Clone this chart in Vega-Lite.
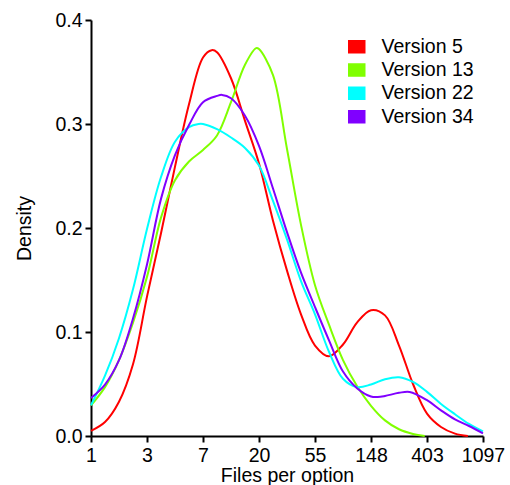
{
  "$schema": "https://vega.github.io/schema/vega-lite/v6.json",
  "width": 392,
  "height": 416,
  "autosize": {"type": "none"},
  "padding": {"left": 91, "top": 20, "right": 27, "bottom": 49},
  "background": "white",
  "config": {"view": {"stroke": null}, "font": "Liberation Sans", "legend": {"symbolStrokeColor": "black", "symbolStrokeWidth": 1.5}},
  "data": {"values": [
    {"s":"Version 5","u":0,"d":0.005},{"s":"Version 5","u":0.25,"d":0.0135},{"s":"Version 5","u":0.5,"d":0.033},{"s":"Version 5","u":0.75,"d":0.069},{"s":"Version 5","u":1,"d":0.134},{"s":"Version 5","u":1.25,"d":0.195},{"s":"Version 5","u":1.5,"d":0.259},{"s":"Version 5","u":1.75,"d":0.319},{"s":"Version 5","u":2,"d":0.364},{"s":"Version 5","u":2.155,"d":0.371},{"s":"Version 5","u":2.25,"d":0.369},{"s":"Version 5","u":2.5,"d":0.344},{"s":"Version 5","u":2.75,"d":0.303},{"s":"Version 5","u":3,"d":0.262},{"s":"Version 5","u":3.25,"d":0.207},{"s":"Version 5","u":3.5,"d":0.159},{"s":"Version 5","u":3.75,"d":0.117},{"s":"Version 5","u":4,"d":0.087},{"s":"Version 5","u":4.25,"d":0.0767},{"s":"Version 5","u":4.5,"d":0.088},{"s":"Version 5","u":4.75,"d":0.109},{"s":"Version 5","u":5,"d":0.121},{"s":"Version 5","u":5.25,"d":0.116},{"s":"Version 5","u":5.5,"d":0.087},{"s":"Version 5","u":5.75,"d":0.05},{"s":"Version 5","u":6,"d":0.0215},{"s":"Version 5","u":6.25,"d":0.0087},{"s":"Version 5","u":6.5,"d":0.0023},{"s":"Version 5","u":6.73,"d":0},
    {"s":"Version 13","u":0,"d":0.0295},{"s":"Version 13","u":0.25,"d":0.047},{"s":"Version 13","u":0.5,"d":0.073},{"s":"Version 13","u":0.75,"d":0.109},{"s":"Version 13","u":1,"d":0.153},{"s":"Version 13","u":1.25,"d":0.21},{"s":"Version 13","u":1.5,"d":0.246},{"s":"Version 13","u":1.75,"d":0.264},{"s":"Version 13","u":2,"d":0.275},{"s":"Version 13","u":2.25,"d":0.289},{"s":"Version 13","u":2.5,"d":0.321},{"s":"Version 13","u":2.75,"d":0.357},{"s":"Version 13","u":2.95,"d":0.373},{"s":"Version 13","u":3,"d":0.372},{"s":"Version 13","u":3.25,"d":0.347},{"s":"Version 13","u":3.5,"d":0.276},{"s":"Version 13","u":3.75,"d":0.203},{"s":"Version 13","u":4,"d":0.145},{"s":"Version 13","u":4.25,"d":0.107},{"s":"Version 13","u":4.5,"d":0.073},{"s":"Version 13","u":4.75,"d":0.048},{"s":"Version 13","u":5,"d":0.029},{"s":"Version 13","u":5.25,"d":0.015},{"s":"Version 13","u":5.5,"d":0.0065},{"s":"Version 13","u":5.75,"d":0.002},{"s":"Version 13","u":5.96,"d":0},
    {"s":"Version 22","u":0,"d":0.0295},{"s":"Version 22","u":0.25,"d":0.058},{"s":"Version 22","u":0.5,"d":0.094},{"s":"Version 22","u":0.75,"d":0.141},{"s":"Version 22","u":1,"d":0.199},{"s":"Version 22","u":1.25,"d":0.249},{"s":"Version 22","u":1.5,"d":0.283},{"s":"Version 22","u":1.75,"d":0.297},{"s":"Version 22","u":1.92,"d":0.3},{"s":"Version 22","u":2,"d":0.3},{"s":"Version 22","u":2.25,"d":0.295},{"s":"Version 22","u":2.5,"d":0.287},{"s":"Version 22","u":2.75,"d":0.277},{"s":"Version 22","u":3,"d":0.26},{"s":"Version 22","u":3.25,"d":0.226},{"s":"Version 22","u":3.5,"d":0.189},{"s":"Version 22","u":3.75,"d":0.149},{"s":"Version 22","u":4,"d":0.117},{"s":"Version 22","u":4.25,"d":0.081},{"s":"Version 22","u":4.5,"d":0.055},{"s":"Version 22","u":4.75,"d":0.047},{"s":"Version 22","u":5,"d":0.0495},{"s":"Version 22","u":5.25,"d":0.0546},{"s":"Version 22","u":5.5,"d":0.0565},{"s":"Version 22","u":5.75,"d":0.052},{"s":"Version 22","u":6,"d":0.0424},{"s":"Version 22","u":6.25,"d":0.0308},{"s":"Version 22","u":6.5,"d":0.0209},{"s":"Version 22","u":6.75,"d":0.0116},{"s":"Version 22","u":7,"d":0.0045},
    {"s":"Version 34","u":0,"d":0.0366},{"s":"Version 34","u":0.25,"d":0.0495},{"s":"Version 34","u":0.5,"d":0.0729},{"s":"Version 34","u":0.75,"d":0.113},{"s":"Version 34","u":1,"d":0.165},{"s":"Version 34","u":1.25,"d":0.228},{"s":"Version 34","u":1.5,"d":0.27},{"s":"Version 34","u":1.75,"d":0.299},{"s":"Version 34","u":2,"d":0.321},{"s":"Version 34","u":2.25,"d":0.327},{"s":"Version 34","u":2.34,"d":0.328},{"s":"Version 34","u":2.5,"d":0.3247},{"s":"Version 34","u":2.75,"d":0.308},{"s":"Version 34","u":3,"d":0.279},{"s":"Version 34","u":3.25,"d":0.238},{"s":"Version 34","u":3.5,"d":0.196},{"s":"Version 34","u":3.75,"d":0.157},{"s":"Version 34","u":4,"d":0.124},{"s":"Version 34","u":4.25,"d":0.092},{"s":"Version 34","u":4.5,"d":0.062},{"s":"Version 34","u":4.75,"d":0.046},{"s":"Version 34","u":5,"d":0.038},{"s":"Version 34","u":5.12,"d":0.0375},{"s":"Version 34","u":5.25,"d":0.0385},{"s":"Version 34","u":5.5,"d":0.0415},{"s":"Version 34","u":5.69,"d":0.0424},{"s":"Version 34","u":6,"d":0.0344},{"s":"Version 34","u":6.25,"d":0.0247},{"s":"Version 34","u":6.5,"d":0.016},{"s":"Version 34","u":6.75,"d":0.0096},{"s":"Version 34","u":7,"d":0.0026}
  ]},
  "mark": {"type": "line", "interpolate": "catmull-rom", "strokeWidth": 2},
  "encoding": {
    "x": {
      "field": "u", "type": "quantitative",
      "scale": {"domain": [0, 7], "nice": false, "zero": false},
      "axis": {
        "values": [0, 1, 2, 3, 4, 5, 6, 7],
        "labelExpr": "round(exp(datum.value))",
        "grid": false, "domainColor": "black", "domainWidth": 2,
        "tickColor": "black", "tickWidth": 2, "tickSize": 6,
        "labelFontSize": 19.5, "labelColor": "black", "labelPadding": 4,
        "labelFlush": false, "labelOverlap": false, "labelBound": false,
        "title": "Files per option", "titleFontSize": 19.5, "titleFontWeight": "normal",
        "titleColor": "black", "titleX": 196, "titleY": 45, "titleBaseline": "alphabetic"
      }
    },
    "y": {
      "field": "d", "type": "quantitative",
      "scale": {"domain": [0, 0.4], "nice": false},
      "axis": {
        "values": [0, 0.1, 0.2, 0.3, 0.4], "format": ".1f",
        "grid": false, "domainColor": "black", "domainWidth": 2,
        "tickColor": "black", "tickWidth": 2, "tickSize": 6,
        "labelFontSize": 19.5, "labelColor": "black", "labelPadding": 3,
        "labelFlush": false, "labelOverlap": false, "labelBound": false,
        "title": "Density", "titleFontSize": 19.5, "titleFontWeight": "normal",
        "titleColor": "black", "titleX": -61, "titleY": 208, "titleAngle": -90,
        "titleBaseline": "alphabetic", "titleAlign": "center"
      }
    },
    "color": {
      "field": "s", "type": "nominal",
      "scale": {"domain": ["Version 5", "Version 13", "Version 22", "Version 34"],
                "range": ["#FF0000", "#80FF00", "#00FFFF", "#8000FF"]},
      "legend": {
        "title": null, "orient": "none", "legendX": 256, "legendY": 17,
        "padding": 0, "offset": 0,
        "symbolType": "M-1,-0.75H1V0.75H-1Z", "symbolSize": 256,
        "labelFontSize": 19.5, "labelColor": "black", "labelOffset": 15,
        "rowPadding": 2.3,
        "encode": {"symbols": {"update": {
          "fill": {"scale": "color", "field": "value"},
          "stroke": {"value": "black"}, "strokeWidth": {"value": 1.5},
          "opacity": {"value": 1}
        }}}
      }
    }
  }
}
